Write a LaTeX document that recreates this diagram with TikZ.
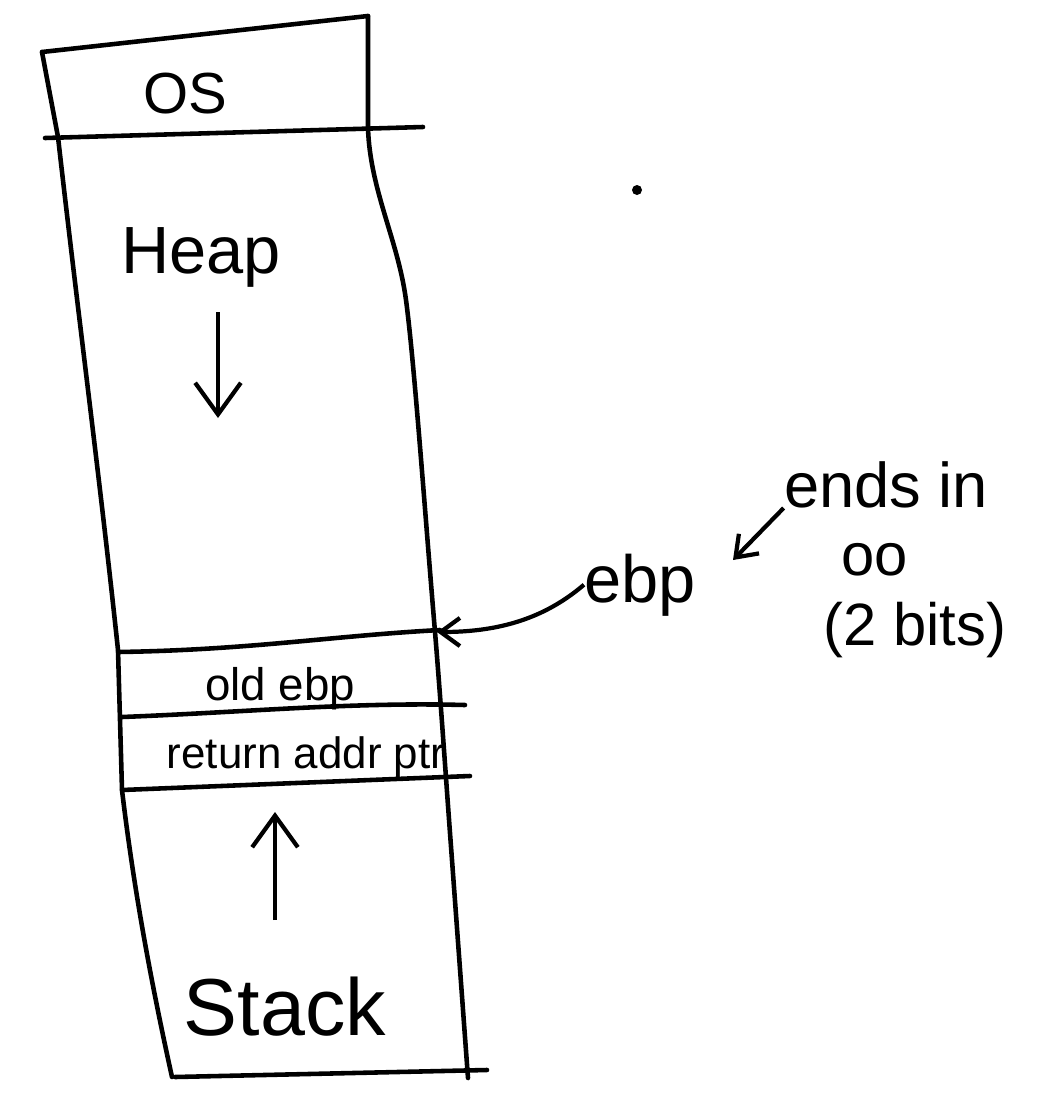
\documentclass[tikz,border=0pt]{standalone}
\usepackage{fontspec}
\setmainfont{Liberation Sans}
\usetikzlibrary{arrows.meta}

\begin{document}
\begin{tikzpicture}[x=0.02cm,y=-0.02cm]\begin{scope}[
    wall/.style={line width=2.6pt, line cap=round, line join=round},
    lbl/.style={inner sep=0pt, anchor=base},
    growth/.style={line width=2.4pt, -{Straight Barb[length=18pt,width=26pt]}},
    ptr/.style={line width=2.4pt, -{Straight Barb[length=11pt,width=16pt]}}
]
\fill[white] (0,0) rectangle (1051,1096);
\useasboundingbox (0,0) rectangle (1051,1096);
% Memory column
\draw[wall] (42,52) -- (368,16);
\draw[wall] (42,52) -- (58,137) .. controls (80,330) and (100,480) .. (118,650) -- (122,790) .. controls (135,900) and (155,1000) .. (172,1077);
\draw[wall] (368,16) -- (368,128) .. controls (370,190) and (398,240) .. (406,300) .. controls (414,360) and (424,500) .. (434,620) .. controls (440,690) and (446,780) .. (452,860) -- (468,1078);
% Segment borders
\draw[wall] (45,138) -- (423,127);
\draw[wall] (118,652) .. controls (250,650) and (330,636) .. (440,630);
\draw[wall] (122,717) .. controls (250,712) and (350,702) .. (465,705);
\draw[wall] (122,790) -- (470,776);
\draw[wall] (175,1077) -- (487,1070);
% Segment names
\node[lbl, font=\fontsize{33}{36}\selectfont] (os) at (185,113) {OS};
\node[lbl, font=\fontsize{38}{40}\selectfont] (heap) at (201,273) {Heap};
\node[lbl, font=\fontsize{26}{28}\selectfont] (oldebp) at (280,700) {old ebp};
\node[lbl, font=\fontsize{25}{27}\selectfont] (retaddr) at (306,768) {return addr ptr};
\node[lbl, font=\fontsize{46}{48}\selectfont] (stack) at (285,1035) {Stack};
% Growth directions
\coordinate (heaptail) at (218,312);
\coordinate (heaptip) at (218,418);
\draw[growth] (heaptail) -- (heaptip);
\coordinate (stacktail) at (275,920);
\coordinate (stacktip) at (275,812);
\draw[growth] (stacktail) -- (stacktip);
% Frame pointer note
\node[lbl, font=\fontsize{38}{40}\selectfont] (ebp) at (640,602) {ebp};
\node[lbl, font=\fontsize{36}{38}\selectfont] (ends) at (886,507) {ends in};
\node[lbl, font=\fontsize{34}{36}\selectfont] (zeros) at (875,575) {oo};
\node[lbl, font=\fontsize{34}{36}\selectfont] (bits) at (915,645) {(2 bits)};
\coordinate (frametop) at (437,632);
\draw[ptr] (ebp.west) .. controls (545,618) and (500,632) .. (frametop);
\coordinate (ebpmark) at (733,560);
\draw[ptr] (ends.south west) -- (ebpmark);
\fill (637,190) circle (5);\end{scope}
\end{tikzpicture}
\end{document}
